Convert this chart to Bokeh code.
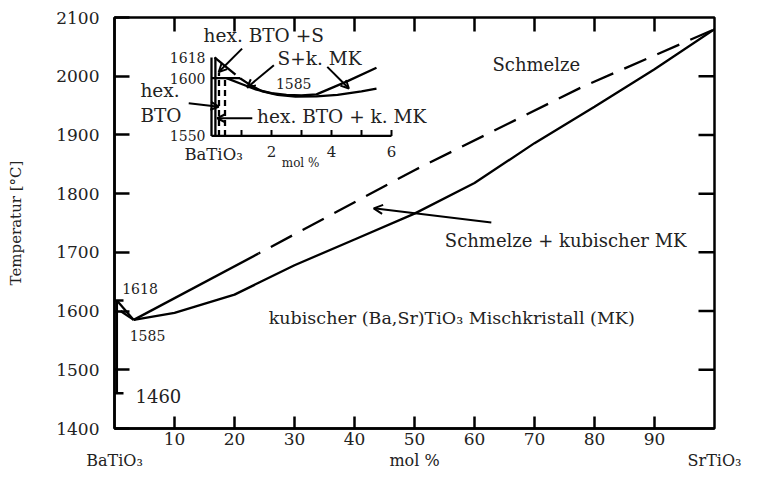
from bokeh.plotting import figure
from bokeh.models import Range1d, FixedTicker, Label, Arrow, OpenHead, LinearAxis
from bokeh.embed import file_html
from bokeh.resources import INLINE

FONT = "DejaVu Serif"

# ---------------- data (main diagram) ----------------
x_ticks = [10, 20, 30, 40, 50, 60, 70, 80, 90]
y_ticks = [1400, 1500, 1600, 1700, 1800, 1900, 2000, 2100]
y_inner_ticks = [1500, 1600, 1700, 1800, 1900, 2000]
end_ticks = [0, 50, 100]
end_labels = ["BaTiO\u2083", "mol %", "SrTiO\u2083"]

solidus_x = [3.2, 10, 20, 30, 40, 50, 60, 70, 80, 90, 100]
solidus_y = [1585, 1597, 1628, 1678, 1722, 1766, 1818, 1886, 1948, 2012, 2080]

liquidus_x = [3.2, 24, 50, 78, 100]
liquidus_y = [1585, 1698, 1840, 1982, 2080]

hexbto_x = [0.4, 0.4]
hexbto_y = [1460, 1618]
liq_left_x = [0.4, 3.2]
liq_left_y = [1618, 1585]
sol_left_x = [1.0, 3.2]
sol_left_y = [1600, 1585]
mark_y = [1618, 1460]

# ---------------- data (inset, 0-6 mol %) ----------------
inset_xticks = [1, 2, 3, 4, 5, 6]
inset_xlabels = [2, 4, 6]
inset_ylabels = [1618, 1600, 1550]

in_hex_x = [0.13, 0.13]
in_hex_y = [1550, 1618]
in_liq0_x = [0.1, 0.8]
in_liq0_y = [1618, 1603]
in_peri_x = [0.0, 0.95]
in_peri_y = [1600, 1600]
in_dash1_x = [0.25, 0.25]
in_dash1_y = [1550, 1605]
in_dash2_x = [0.45, 0.45]
in_dash2_y = [1550, 1600]
in_liq_x = [0.5, 1.0, 1.5, 2.0, 2.5, 3.0, 3.5, 4.5, 5.5]
in_liq_y = [1600, 1595, 1590, 1587, 1585.5, 1585, 1586, 1597, 1609]
in_sol_x = [0.95, 1.3, 1.7, 2.2, 2.8, 3.5, 4.2, 5.0, 5.5]
in_sol_y = [1600, 1594, 1588.5, 1585.5, 1584, 1584.2, 1585.5, 1588.5, 1591]

# ---------------- figure ----------------
W, H = 760, 478
ML, MR, MT, MB = 114, 46, 17, 50
X0, X1, Y0, Y1 = 0, 100, 1400, 2100
p = figure(width=W, height=H, x_range=Range1d(X0, X1), y_range=Range1d(Y0, Y1),
           output_backend="svg", toolbar_location=None,
           min_border_left=ML, min_border_right=MR, min_border_top=MT, min_border_bottom=MB,
           y_axis_label="Temperatur [°C]")
p.background_fill_color = "white"
p.border_fill_color = "white"
p.xgrid.visible = False
p.ygrid.visible = False
p.outline_line_color = "black"
p.outline_line_width = 2.5

# pixel -> data unit factors (for the inward ticks on the top/right edges)
px_x = (X1 - X0) / (W - ML - MR)
px_y = (Y1 - Y0) / (H - MT - MB)

# inset coordinate system placed in the upper left of the frame
p.extra_x_ranges = {"inset": Range1d(-3.2333, 16.7667)}
p.extra_y_ranges = {"inset": Range1d(1296.4, 1652.6)}

TXT = "#222222"


def style_axis(ax, ticks, size="17px", tick_in=0):
    ax.ticker = FixedTicker(ticks=ticks, minor_ticks=[])
    ax.major_tick_in = tick_in
    ax.major_tick_out = 0
    ax.minor_tick_in = 0
    ax.minor_tick_out = 0
    ax.major_tick_line_width = 2.5
    ax.major_tick_line_color = "black"
    ax.axis_line_width = 2.5
    ax.axis_line_color = "black"
    ax.major_label_text_font = FONT
    ax.major_label_text_color = TXT
    ax.major_label_text_font_size = size
    ax.axis_label_text_font = FONT
    ax.axis_label_text_font_style = "normal"
    ax.axis_label_text_color = TXT
    ax.axis_label_text_font_size = "15px"


xa = p.xaxis[0]
style_axis(xa, x_ticks, tick_in=12)
xa.major_label_standoff = 4

ya = p.yaxis[0]
style_axis(ya, y_ticks, tick_in=15)
ya.major_label_standoff = 15
ya.axis_label_standoff = 28

# second row below the axis: component names and the axis title
xb = LinearAxis()
style_axis(xb, end_ticks, size="16px")
xb.axis_line_color = None
xb.major_tick_line_color = None
xb.major_label_overrides = dict(zip(end_ticks, end_labels))
xb.major_label_standoff = 3
p.add_layout(xb, "below")

TW = 2.5
# inward ticks on the top and right frame edges (no labels there)
for t in x_ticks:
    p.line([t, t], [Y1, Y1 - 14 * px_y], line_color="black", line_width=TW)
for t in y_inner_ticks:
    p.line([X1, X1 - 16 * px_x], [t, t], line_color="black", line_width=TW)

LW = 2.3
# main curves
p.line(solidus_x, solidus_y, line_color="black", line_width=LW)
p.line(liquidus_x[:2], liquidus_y[:2], line_color="black", line_width=LW)
p.line(liquidus_x[1:], liquidus_y[1:], line_color="black", line_width=LW,
       line_dash="24 12", line_dash_offset=-14)
p.line(hexbto_x, hexbto_y, line_color="black", line_width=LW)
p.line(liq_left_x, liq_left_y, line_color="black", line_width=LW)
p.line(sol_left_x, sol_left_y, line_color="black", line_width=LW)
for t in mark_y:
    p.line([X0, X0 + 9 * px_x], [t, t], line_color="black", line_width=LW)

# inset axes and curves
IR = dict(x_range_name="inset", y_range_name="inset")
p.line([0, 0], [1550, 1618], line_color="black", line_width=LW, **IR)
p.line([0, 6], [1550, 1550], line_color="black", line_width=LW, **IR)
for t in inset_xticks:
    p.line([t, t], [1550, 1555], line_color="black", line_width=2, **IR)
p.line(in_hex_x, in_hex_y, line_color="black", line_width=LW, **IR)
p.line(in_liq0_x, in_liq0_y, line_color="black", line_width=LW, **IR)
p.line(in_peri_x, in_peri_y, line_color="black", line_width=LW, **IR)
p.line(in_dash1_x, in_dash1_y, line_color="black", line_width=LW, line_dash="6 4", **IR)
p.line(in_dash2_x, in_dash2_y, line_color="black", line_width=LW, line_dash="6 4", **IR)
p.line(in_liq_x, in_liq_y, line_color="black", line_width=LW, **IR)
p.line(in_sol_x, in_sol_y, line_color="black", line_width=LW, **IR)


def lab(x, y, text, size, align="center", base="middle", inset=False):
    kw = dict(x=x, y=y, text=text, text_font=FONT, text_font_size=size,
              text_align=align, text_baseline=base, text_color=TXT)
    if inset:
        kw.update(x_range_name="inset", y_range_name="inset")
    p.add_layout(Label(**kw))


# main texts
lab(70.3, 2020, "Schmelze", "18px")
lab(75.2, 1720, "Schmelze + kubischer MK", "18px")
lab(25.7, 1588, "kubischer (Ba,Sr)TiO\u2083 Mischkristall (MK)", "17.5px", align="left")
lab(4.25, 1639, "1618", "14px")
lab(5.5, 1559, "1585", "14px")
lab(3.5, 1456, "1460", "18px", align="left")
lab(100.8, 2074, "2080", "16.5px", align="left")

# inset texts
for v in inset_xlabels:
    lab(v, 1536.5, str(v), "15px", inset=True)
for v in inset_ylabels:
    lab(-0.2, v, str(v), "14px", align="right", inset=True)
lab(2.97, 1526.5, "mol %", "12px", inset=True)
lab(0.07, 1533.6, "BaTiO\u2083", "16.5px", inset=True)
lab(1.74, 1637, "hex. BTO +S", "18.5px", inset=True)
lab(3.6, 1617, "S+k. MK", "18.5px", inset=True)
lab(2.74, 1595.4, "1585", "14px", inset=True)
lab(-2.37, 1589.7, "hex.", "18.5px", align="left", inset=True)
lab(-2.37, 1568, "BTO", "18.5px", align="left", inset=True)
lab(1.52, 1566.6, "hex. BTO + k. MK", "18.5px", align="left", inset=True)

# arrows (start -> end)
main_arrows = [((62.8, 1751), (43.2, 1775))]
inset_arrows = [((1.02, 1625.6), (0.24, 1605.4)),
                ((2.08, 1611.2), (1.19, 1592.0)),
                ((3.86, 1609.8), (4.58, 1591.1)),
                ((-0.76, 1578.2), (0.24, 1575.3)),
                ((1.36, 1565.3), (0.19, 1565.3))]
for (xs, ys), (xe, ye) in main_arrows:
    p.add_layout(Arrow(end=OpenHead(size=9, line_width=2), x_start=xs, y_start=ys,
                       x_end=xe, y_end=ye, line_width=2))
for (xs, ys), (xe, ye) in inset_arrows:
    p.add_layout(Arrow(end=OpenHead(size=8, line_width=2), x_start=xs, y_start=ys,
                       x_end=xe, y_end=ye, line_width=2,
                       x_range_name="inset", y_range_name="inset"))

open("out.html", "w").write(file_html(p, INLINE))
